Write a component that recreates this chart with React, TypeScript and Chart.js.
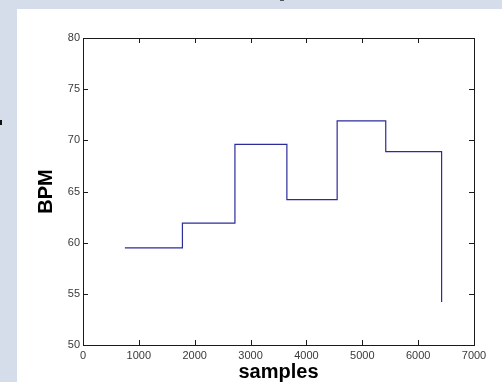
import React, { useEffect, useRef } from "react";
import { Chart, registerables } from "chart.js";

Chart.register(...registerables);

// Step positions (samples) and BPM levels
const stepSamples = [750, 1780, 2720, 3650, 4550, 5420, 6420];
const bpmValues = [59.5, 61.9, 69.6, 64.2, 71.9, 68.9, 54.2];
const xTickValues = [0, 1000, 2000, 3000, 4000, 5000, 6000, 7000];
const yTickValues = [50, 55, 60, 65, 70, 75, 80];

const boxPlugin = {
  id: "matlabBox",
  afterDraw(chart: any) {
    const { ctx, chartArea, scales } = chart;
    const { left, right, top, bottom } = chartArea;
    const len = 5;
    ctx.save();
    ctx.strokeStyle = "#1a1a1a";
    ctx.lineWidth = 1;
    ctx.beginPath();
    for (const v of xTickValues) {
      const px = Math.round(scales.x.getPixelForValue(v)) + 0.5;
      ctx.moveTo(px, bottom);
      ctx.lineTo(px, bottom - len);
      ctx.moveTo(px, top);
      ctx.lineTo(px, top + len);
    }
    for (const v of yTickValues) {
      const py = Math.round(scales.y.getPixelForValue(v)) + 0.5;
      ctx.moveTo(left, py);
      ctx.lineTo(left + len, py);
      ctx.moveTo(right, py);
      ctx.lineTo(right - len, py);
    }
    ctx.stroke();
    ctx.strokeRect(
      Math.round(left) + 0.5,
      Math.round(top) + 0.5,
      Math.round(right - left),
      Math.round(bottom - top)
    );
    ctx.restore();
  },
};

export default function App() {
  const canvasRef = useRef<HTMLCanvasElement | null>(null);

  useEffect(() => {
    if (!canvasRef.current) return;
    // Each level starts at its sample position and holds until the next one
    const points: { x: number; y: number }[] = [];
    stepSamples.forEach((x, i) => {
      if (i > 0) points.push({ x, y: bpmValues[i - 1] });
      points.push({ x, y: bpmValues[i] });
    });
    const tickFont = { family: "Liberation Sans, Arial, sans-serif", size: 11 };
    const titleFont = {
      family: "Liberation Sans, Arial, sans-serif",
      size: 20,
      weight: "bold" as const,
      lineHeight: 1,
    };
    const chart = new Chart(canvasRef.current, {
      type: "line",
      data: {
        datasets: [
          {
            data: points,
            borderColor: "#2c2c9c",
            borderWidth: 1.2,
            pointRadius: 0,
            fill: false,
            tension: 0,
          },
        ],
      },
      options: {
        animation: false,
        responsive: false,
        maintainAspectRatio: false,
        layout: { padding: { left: 0, top: 29, right: 28, bottom: 0 } },
        plugins: {
          legend: { display: false },
          tooltip: { enabled: false },
        },
        scales: {
          x: {
            type: "linear",
            min: 0,
            max: 7000,
            afterFit: (s: any) => {
              s.height = 37;
            },
            afterBuildTicks: (s: any) => {
              s.ticks = xTickValues.map((v) => ({ value: v }));
            },
            grid: { display: false, drawTicks: false },
            border: { display: false },
            ticks: {
              font: tickFont,
              color: "#3a3a3a",
              padding: 4,
              maxRotation: 0,
              autoSkip: false,
              callback: (v: any) => String(v),
            },
            title: {
              display: true,
              text: "samples",
              font: titleFont,
              color: "#000",
              padding: { top: 0, bottom: 0 },
            },
          },
          y: {
            type: "linear",
            min: 50,
            max: 80,
            afterFit: (s: any) => {
              s.width = 66;
            },
            afterBuildTicks: (s: any) => {
              s.ticks = yTickValues.map((v) => ({ value: v }));
            },
            grid: { display: false, drawTicks: false },
            border: { display: false },
            ticks: {
              font: tickFont,
              color: "#3a3a3a",
              padding: 3,
              autoSkip: false,
              callback: (v: any) => String(v),
            },
            title: {
              display: true,
              text: "BPM",
              font: titleFont,
              color: "#000",
              padding: { top: 19, bottom: 0 },
            },
          },
        },
      },
      plugins: [boxPlugin],
    });
    return () => chart.destroy();
  }, []);

  return (
    <div
      style={{
        position: "fixed",
        left: 0,
        top: 0,
        width: 502,
        height: 382,
        background: "#d5dcea",
        overflow: "hidden",
      }}
    >
      <div style={{ position: "absolute", left: 0, top: 120, width: 2, height: 5, background: "#111" }} />
      <div style={{ position: "absolute", left: 280, top: 0, width: 4, height: 1, background: "#555" }} />
      <div
        style={{
          position: "absolute",
          left: 17,
          top: 9,
          width: 485,
          height: 373,
          background: "#ffffff",
        }}
      >
        <canvas ref={canvasRef} width={485} height={373} style={{ display: "block" }} />
      </div>
    </div>
  );
}
